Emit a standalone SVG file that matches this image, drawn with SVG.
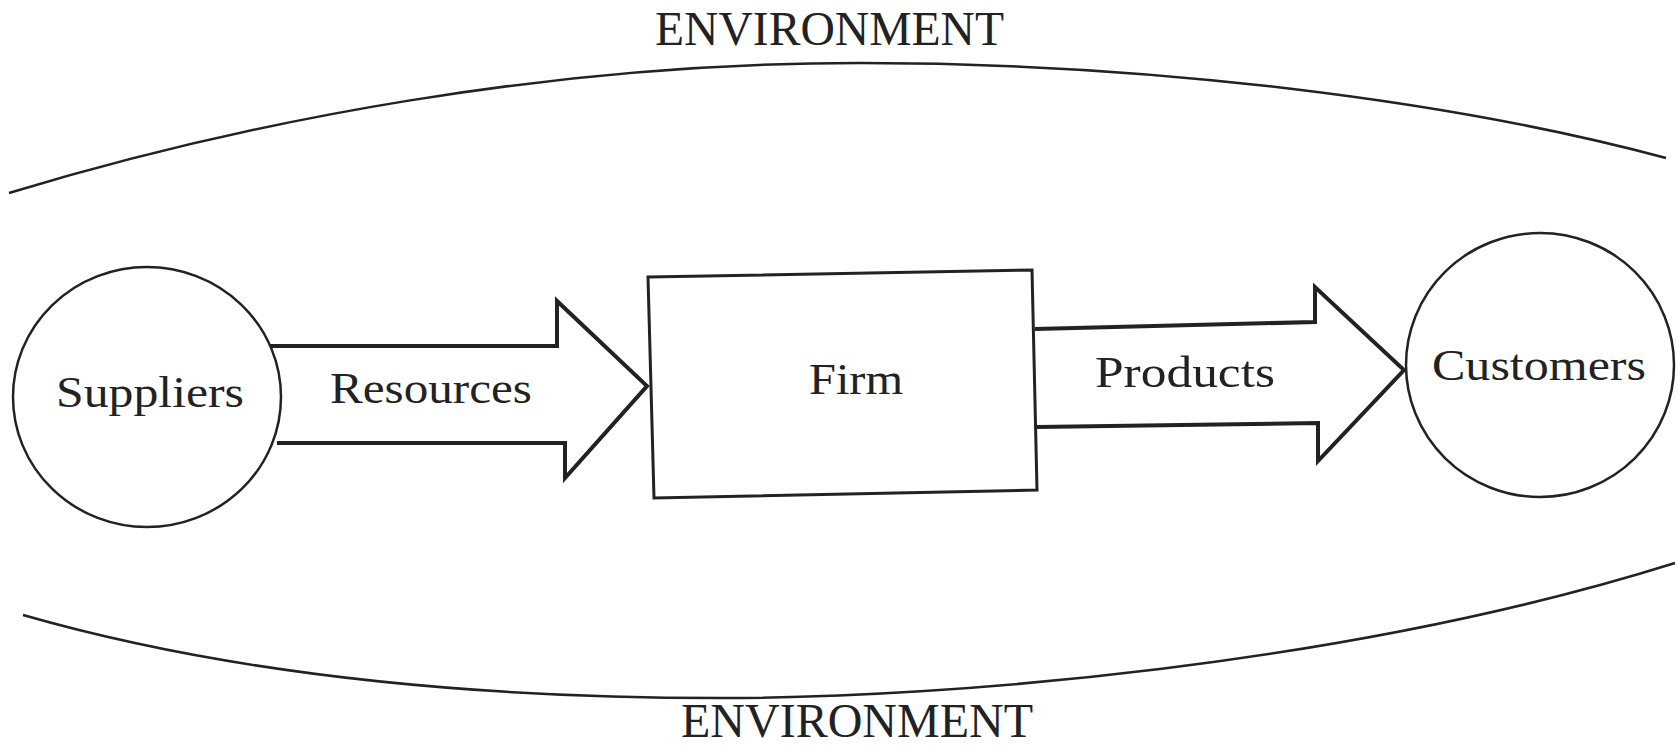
<svg xmlns="http://www.w3.org/2000/svg" width="1678" height="748" viewBox="0 0 1678 748">
<style>
.t{font-family:"Liberation Serif","Times New Roman",serif;fill:#222;font-size:45px}
.env{font-family:"Liberation Serif","Times New Roman",serif;fill:#222}
.ln{fill:none;stroke:#222;stroke-width:2.5}
.node{fill:#fff;stroke:#222;stroke-width:2.5}
.arr{fill:#fff;stroke:#222;stroke-width:4;stroke-linejoin:miter}
</style>
<rect width="1678" height="748" fill="#fff"/>
<g id="environment">
<path class="ln" d="M9,193 C250,120 550,63 860,63 C1150,63 1450,100 1666,158"/>
<path class="ln" d="M23,615 C250,680 500,698 720,698 C950,698 1350,665 1675,563"/>
<text class="env" x="655" y="45" font-size="48" textLength="349" lengthAdjust="spacingAndGlyphs">ENVIRONMENT</text>
<text class="env" x="681" y="737" font-size="48" textLength="352" lengthAdjust="spacingAndGlyphs">ENVIRONMENT</text>
</g>
<g id="connectors">
<path class="arr" d="M270,346 L557,346 L557,301 L647,386 L565,478 L565,443 L277,443"/>
<path class="arr" d="M1035,329 L1315,322 L1315,287 L1404,370 L1318,461 L1318,423 L1037,427"/>
<text class="t" x="330" y="403" textLength="202" lengthAdjust="spacingAndGlyphs">Resources</text>
<text class="t" x="1095" y="387" textLength="180" lengthAdjust="spacingAndGlyphs">Products</text>
</g>
<g id="suppliers">
<ellipse class="node" cx="147" cy="397" rx="134" ry="130"/>
<text class="t" x="56" y="407" textLength="188" lengthAdjust="spacingAndGlyphs">Suppliers</text>
</g>
<g id="firm">
<polygon class="node" style="stroke-width:3" points="648,277 1032,270 1037,490 654,498"/>
<text class="t" x="809" y="394" textLength="94" lengthAdjust="spacingAndGlyphs">Firm</text>
</g>
<g id="customers">
<ellipse class="node" cx="1540" cy="365" rx="134" ry="132"/>
<text class="t" x="1432" y="380" textLength="214" lengthAdjust="spacingAndGlyphs">Customers</text>
</g>
</svg>
